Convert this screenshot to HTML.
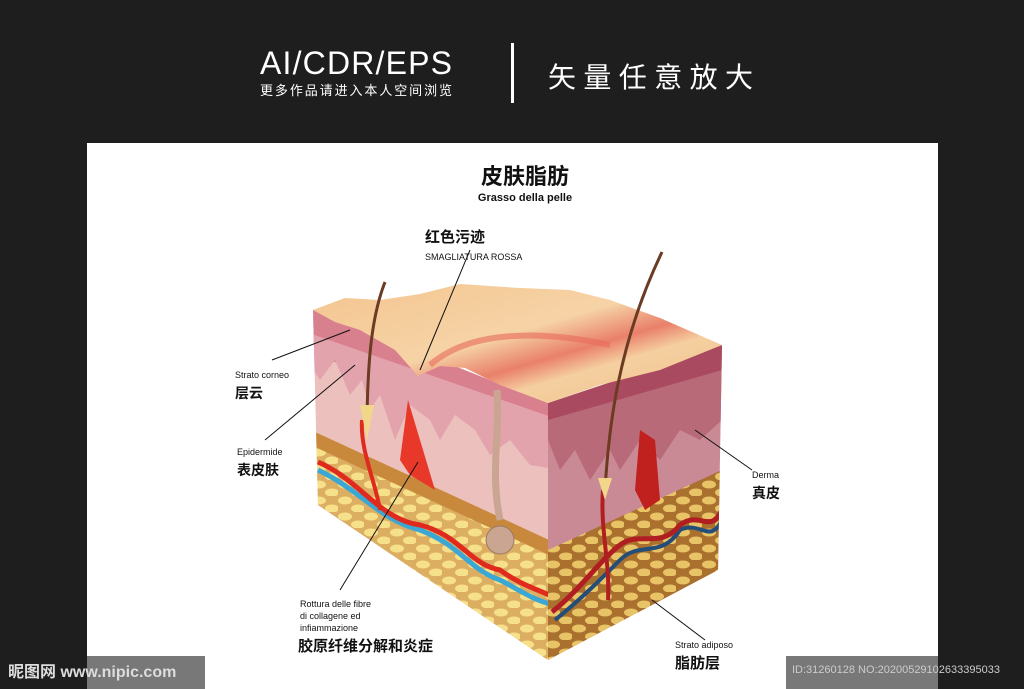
<!DOCTYPE html>
<html><head><meta charset="utf-8"><style>
body{margin:0;width:1024px;height:689px;overflow:hidden;background:#1e1e1e}
svg{display:block}
text{font-family:"Liberation Sans","Noto Sans CJK SC",sans-serif}
</style></head><body>
<svg width="1024" height="689" viewBox="0 0 1024 689">
<defs>
<linearGradient id="top" x1="0" y1="0" x2="1" y2="1">
<stop offset="0" stop-color="#f4c590"/><stop offset="0.45" stop-color="#f6d3a6"/><stop offset="0.6" stop-color="#e9806a"/><stop offset="0.7" stop-color="#f5cfa0"/><stop offset="1" stop-color="#f2c28e"/></linearGradient>
<clipPath id="lf"><polygon points="313,310 548,403 548,660 318,505"/></clipPath>
<clipPath id="rf"><polygon points="548,403 722,345 718,570 548,660"/></clipPath>
<pattern id="fat" width="26" height="16" patternUnits="userSpaceOnUse"><rect width="26" height="16" fill="#dcae62"/><ellipse cx="7" cy="4.5" rx="7" ry="4" fill="#f6e08a"/><ellipse cx="20" cy="12.5" rx="7" ry="4" fill="#f6e08a"/></pattern>
<pattern id="fat2" width="26" height="16" patternUnits="userSpaceOnUse"><rect width="26" height="16" fill="#a9702e"/><ellipse cx="7" cy="4.5" rx="7" ry="4" fill="#e8c466"/><ellipse cx="20" cy="12.5" rx="7" ry="4" fill="#e8c466"/></pattern>
</defs>
<rect width="1024" height="689" fill="#1e1e1e"/>
<text x="260" y="74" fill="#fff" font-size="32" textLength="192">AI/CDR/EPS</text>
<text x="260" y="95" fill="#fff" font-size="13" textLength="192">更多作品请进入本人空间浏览</text>
<rect x="511" y="43" width="3" height="60" fill="#fff"/>
<text x="548" y="87" fill="#fff" font-size="28" textLength="205">矢量任意放大</text>
<rect x="87" y="143" width="851" height="546" fill="#fff"/>
<text x="525" y="184" text-anchor="middle" font-size="22" font-weight="bold" fill="#111">皮肤脂肪</text>
<text x="525" y="201" text-anchor="middle" font-size="11" font-weight="bold" fill="#111">Grasso della pelle</text>
<text x="425" y="242" font-size="15" font-weight="bold" fill="#111">红色污迹</text>
<text x="425" y="260" font-size="9" fill="#111">SMAGLIATURA ROSSA</text>
<!-- left face -->
<g clip-path="url(#lf)">
<rect x="300" y="300" width="260" height="370" fill="#ecc0bc"/>
<polygon points="300,300 560,400 560,440 300,350" fill="#d9808f"/>
<path d="M300,350 L320,380 335,360 350,395 362,380 370,410 380,395 395,440 410,405 430,420 440,440 455,415 475,430 490,455 510,440 530,465 560,470 560,420 300,330Z" fill="#e3a3ad"/>
<polygon points="300,430 560,550 560,680 300,680" fill="url(#fat)"/>
<polygon points="300,425 560,545 560,560 300,440" fill="#c8893c"/>
<path d="M408,400 L420,440 435,490 410,475 400,460Z" fill="#e8382a"/>
<path d="M318,470 C360,490 380,520 420,530 C460,545 470,570 500,580 C520,590 540,605 560,605" stroke="#3aa7d4" stroke-width="5" fill="none"/>
<path d="M318,462 C360,480 380,520 420,525 C460,535 470,565 500,570 C520,585 540,590 560,600" stroke="#e02a1e" stroke-width="5" fill="none"/>
<path d="M362,420 C360,450 375,480 380,510" stroke="#e02a1e" stroke-width="4" fill="none"/>
<path d="M497,390 C500,440 490,470 500,520" stroke="#c9a592" stroke-width="7" fill="none"/>
<circle cx="500" cy="540" r="14" fill="#c9a592" stroke="#9c7a66"/>
</g>
<!-- right face -->
<g clip-path="url(#rf)">
<rect x="540" y="340" width="190" height="330" fill="#c98a96"/>
<polygon points="548,403 722,345 722,380 548,440" fill="#a94a60"/>
<path d="M548,440 L560,470 575,450 590,480 610,450 620,470 640,440 660,460 680,430 700,440 722,420 722,370 548,420Z" fill="#b86a78"/>
<polygon points="548,550 722,470 722,680 548,680" fill="url(#fat2)"/>
<path d="M640,430 L655,440 660,500 645,510 635,490Z" fill="#c0201e"/>
<path d="M555,620 C580,600 600,580 620,560 C640,540 660,560 680,530 C700,520 710,545 722,520" stroke="#234e7a" stroke-width="4" fill="none"/>
<path d="M552,612 C580,590 600,560 620,545 C640,530 660,550 680,525 C700,510 710,535 722,510" stroke="#b01e22" stroke-width="5" fill="none"/>
<path d="M603,490 C600,530 610,560 608,600" stroke="#b01e22" stroke-width="4" fill="none"/>
</g>
<!-- top face -->
<path d="M313,310 L345,298 380,300 420,294 460,284 520,288 570,290 610,300 660,318 722,345 L660,370 600,385 548,403 500,385 465,368 440,366 418,376 395,350 360,330 335,322Z" fill="url(#top)"/>
<path d="M430,365 C470,330 540,330 610,345" stroke="#e86a5a" stroke-width="6" fill="none" opacity=".6"/>
<!-- hairs -->
<path d="M367,415 C368,370 370,320 385,282" stroke="#6b3b22" stroke-width="3" fill="none"/>
<path d="M360,405 L367,440 374,405Z" fill="#f2d68a"/>
<path d="M605,490 C608,440 615,350 662,252" stroke="#6b3b22" stroke-width="3" fill="none"/>
<path d="M598,478 L605,500 612,478Z" fill="#f2d68a"/>
<!-- leader lines -->
<g stroke="#111" stroke-width="1" fill="none">
<line x1="272" y1="360" x2="350" y2="330"/>
<line x1="265" y1="440" x2="355" y2="365"/>
<line x1="470" y1="250" x2="420" y2="370"/>
<line x1="340" y1="590" x2="418" y2="462"/>
<line x1="752" y1="470" x2="695" y2="430"/>
<line x1="705" y1="640" x2="652" y2="600"/>
</g>
<text x="235" y="378" font-size="9" fill="#111">Strato corneo</text>
<text x="235" y="398" font-size="14" font-weight="bold" fill="#111">层云</text>
<text x="237" y="455" font-size="9" fill="#111">Epidermide</text>
<text x="237" y="475" font-size="14" font-weight="bold" fill="#111">表皮肤</text>
<text x="752" y="478" font-size="9" fill="#111">Derma</text>
<text x="752" y="498" font-size="14" font-weight="bold" fill="#111">真皮</text>
<text x="300" y="607" font-size="9" fill="#111">Rottura delle fibre</text>
<text x="300" y="619" font-size="9" fill="#111">di collagene ed</text>
<text x="300" y="631" font-size="9" fill="#111">infiammazione</text>
<text x="298" y="651" font-size="15" font-weight="bold" fill="#111">胶原纤维分解和炎症</text>
<text x="675" y="648" font-size="9" fill="#111">Strato adiposo</text>
<text x="675" y="668" font-size="15" font-weight="bold" fill="#111">脂肪层</text>
<rect x="0" y="656" width="205" height="33" fill="#1e1e1e" opacity=".6"/>
<text x="8" y="677" font-size="16" font-weight="bold" fill="#ddd">昵图网 www.nipic.com</text>
<rect x="786" y="656" width="238" height="33" fill="#1e1e1e" opacity=".6"/>
<text x="792" y="673" font-size="11" fill="#ccc">ID:31260128 NO:20200529102633395033</text>
</svg>
</body></html>
